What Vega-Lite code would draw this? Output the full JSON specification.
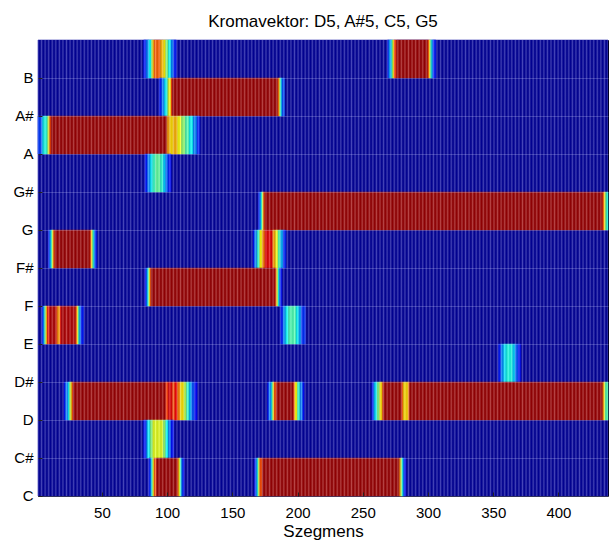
{
  "$schema": "https://vega.github.io/schema/vega-lite/v6.json",
  "width": 570,
  "height": 456,
  "autosize": "none",
  "padding": {"left": 38, "top": 40, "right": 1, "bottom": 49},
  "background": "white",
  "title": {"text": "Kromavektor: D5, A#5, C5, G5", "font": "Liberation Sans", "fontSize": 17, "fontWeight": "normal", "color": "black", "offset": 9},
  "config": {"view": {"stroke": "black", "strokeWidth": 1}, "font": "Liberation Sans"},
  "layer": [
    {
      "data": {"values": [
        {"note":"C","a":1,"b":438,"v":0.03},{"note":"C#","a":1,"b":438,"v":0.03},{"note":"D","a":1,"b":438,"v":0.03},{"note":"D#","a":1,"b":438,"v":0.03},
        {"note":"E","a":1,"b":438,"v":0.03},{"note":"F","a":1,"b":438,"v":0.03},{"note":"F#","a":1,"b":438,"v":0.03},{"note":"G","a":1,"b":438,"v":0.03},
        {"note":"G#","a":1,"b":438,"v":0.03},{"note":"A","a":1,"b":438,"v":0.03},{"note":"A#","a":1,"b":438,"v":0.03},{"note":"B","a":1,"b":438,"v":0.03},

        {"note":"B","a":82,"b":84,"v":0.15},{"note":"B","a":84,"b":86,"v":0.25},{"note":"B","a":86,"b":88,"v":0.38},{"note":"B","a":88,"b":89,"v":0.55},{"note":"B","a":89,"b":90,"v":0.68},
        {"note":"B","a":90,"b":95,"v":0.78},{"note":"B","a":95,"b":97,"v":0.7},{"note":"B","a":97,"b":99,"v":0.64},{"note":"B","a":99,"b":101,"v":0.5},
        {"note":"B","a":101,"b":103,"v":0.38},{"note":"B","a":103,"b":105,"v":0.25},{"note":"B","a":105,"b":107,"v":0.15},
        {"note":"B","a":269,"b":270,"v":0.15},{"note":"B","a":270,"b":272,"v":0.28},{"note":"B","a":272,"b":273,"v":0.42},{"note":"B","a":273,"b":274,"v":0.62},{"note":"B","a":274,"b":276,"v":0.82},
        {"note":"B","a":276,"b":300,"v":0.97},{"note":"B","a":300,"b":301,"v":0.8},{"note":"B","a":301,"b":302,"v":0.62},{"note":"B","a":302,"b":303,"v":0.42},
        {"note":"B","a":303,"b":304,"v":0.28},{"note":"B","a":304,"b":306,"v":0.15},

        {"note":"A#","a":94,"b":96,"v":0.15},{"note":"A#","a":96,"b":98,"v":0.25},{"note":"A#","a":98,"b":100,"v":0.36},{"note":"A#","a":100,"b":101,"v":0.48},{"note":"A#","a":101,"b":103,"v":0.62},
        {"note":"A#","a":103,"b":104,"v":0.8},{"note":"A#","a":104,"b":185,"v":0.97},{"note":"A#","a":185,"b":186,"v":0.78},{"note":"A#","a":186,"b":187,"v":0.58},
        {"note":"A#","a":187,"b":188,"v":0.38},{"note":"A#","a":188,"b":190,"v":0.2},

        {"note":"A","a":1,"b":4,"v":0.18},{"note":"A","a":4,"b":5,"v":0.3},{"note":"A","a":5,"b":8,"v":0.4},{"note":"A","a":8,"b":9,"v":0.5},
        {"note":"A","a":9,"b":10,"v":0.64},{"note":"A","a":10,"b":11,"v":0.8},{"note":"A","a":11,"b":100,"v":0.97},{"note":"A","a":100,"b":102,"v":0.72},
        {"note":"A","a":102,"b":105,"v":0.66},{"note":"A","a":105,"b":108,"v":0.7},{"note":"A","a":108,"b":111,"v":0.62},{"note":"A","a":111,"b":114,"v":0.52},
        {"note":"A","a":114,"b":117,"v":0.45},{"note":"A","a":117,"b":120,"v":0.38},{"note":"A","a":120,"b":123,"v":0.25},{"note":"A","a":123,"b":125,"v":0.15},

        {"note":"G#","a":83,"b":85,"v":0.15},{"note":"G#","a":85,"b":87,"v":0.25},{"note":"G#","a":87,"b":89,"v":0.36},{"note":"G#","a":89,"b":91,"v":0.43},{"note":"G#","a":91,"b":95,"v":0.47},
        {"note":"G#","a":95,"b":97,"v":0.42},{"note":"G#","a":97,"b":99,"v":0.33},{"note":"G#","a":99,"b":101,"v":0.22},{"note":"G#","a":101,"b":103,"v":0.14},

        {"note":"G","a":170,"b":171,"v":0.15},{"note":"G","a":171,"b":172,"v":0.25},{"note":"G","a":172,"b":173,"v":0.4},{"note":"G","a":173,"b":174,"v":0.6},{"note":"G","a":174,"b":175,"v":0.8},
        {"note":"G","a":175,"b":434,"v":0.97},{"note":"G","a":434,"b":435,"v":0.8},{"note":"G","a":435,"b":436,"v":0.65},{"note":"G","a":436,"b":437,"v":0.5},
        {"note":"G","a":437,"b":438,"v":0.4},

        {"note":"F#","a":9,"b":10,"v":0.15},{"note":"F#","a":10,"b":11,"v":0.28},{"note":"F#","a":11,"b":12,"v":0.42},{"note":"F#","a":12,"b":13,"v":0.62},{"note":"F#","a":13,"b":14,"v":0.8},
        {"note":"F#","a":14,"b":41,"v":0.97},{"note":"F#","a":41,"b":42,"v":0.8},{"note":"F#","a":42,"b":43,"v":0.62},{"note":"F#","a":43,"b":44,"v":0.42},
        {"note":"F#","a":44,"b":45,"v":0.26},{"note":"F#","a":45,"b":46,"v":0.15},
        {"note":"F#","a":166,"b":167,"v":0.14},{"note":"F#","a":167,"b":169,"v":0.25},{"note":"F#","a":169,"b":171,"v":0.42},{"note":"F#","a":171,"b":173,"v":0.62},{"note":"F#","a":173,"b":175,"v":0.75},
        {"note":"F#","a":175,"b":181,"v":0.9},{"note":"F#","a":181,"b":183,"v":0.72},{"note":"F#","a":183,"b":185,"v":0.62},{"note":"F#","a":185,"b":187,"v":0.45},
        {"note":"F#","a":187,"b":189,"v":0.3},{"note":"F#","a":189,"b":191,"v":0.16},

        {"note":"F","a":83,"b":84,"v":0.14},{"note":"F","a":84,"b":85,"v":0.24},{"note":"F","a":85,"b":86,"v":0.38},{"note":"F","a":86,"b":87,"v":0.6},{"note":"F","a":87,"b":88,"v":0.8},
        {"note":"F","a":88,"b":183,"v":0.97},{"note":"F","a":183,"b":184,"v":0.8},{"note":"F","a":184,"b":185,"v":0.6},{"note":"F","a":185,"b":186,"v":0.4},
        {"note":"F","a":186,"b":187,"v":0.24},{"note":"F","a":187,"b":188,"v":0.14},

        {"note":"E","a":4,"b":5,"v":0.15},{"note":"E","a":5,"b":6,"v":0.28},{"note":"E","a":6,"b":7,"v":0.45},{"note":"E","a":7,"b":8,"v":0.65},{"note":"E","a":8,"b":10,"v":0.85},
        {"note":"E","a":10,"b":15,"v":0.95},{"note":"E","a":15,"b":16,"v":0.82},{"note":"E","a":16,"b":18,"v":0.72},{"note":"E","a":18,"b":19,"v":0.85},
        {"note":"E","a":19,"b":30,"v":0.95},{"note":"E","a":30,"b":31,"v":0.8},{"note":"E","a":31,"b":32,"v":0.62},{"note":"E","a":32,"b":33,"v":0.42},
        {"note":"E","a":33,"b":34,"v":0.26},{"note":"E","a":34,"b":36,"v":0.15},
        {"note":"E","a":187,"b":189,"v":0.15},{"note":"E","a":189,"b":191,"v":0.27},{"note":"E","a":191,"b":193,"v":0.38},{"note":"E","a":193,"b":199,"v":0.45},{"note":"E","a":199,"b":201,"v":0.38},
        {"note":"E","a":201,"b":203,"v":0.28},{"note":"E","a":203,"b":206,"v":0.17},

        {"note":"D#","a":354,"b":356,"v":0.15},{"note":"D#","a":356,"b":358,"v":0.26},{"note":"D#","a":358,"b":360,"v":0.35},{"note":"D#","a":360,"b":365,"v":0.4},{"note":"D#","a":365,"b":367,"v":0.33},
        {"note":"D#","a":367,"b":369,"v":0.22},{"note":"D#","a":369,"b":371,"v":0.14},

        {"note":"D","a":21,"b":22,"v":0.14},{"note":"D","a":22,"b":24,"v":0.24},{"note":"D","a":24,"b":25,"v":0.36},{"note":"D","a":25,"b":26,"v":0.5},{"note":"D","a":26,"b":27,"v":0.62},
        {"note":"D","a":27,"b":28,"v":0.8},{"note":"D","a":28,"b":99,"v":0.97},{"note":"D","a":99,"b":101,"v":0.82},{"note":"D","a":101,"b":104,"v":0.9},
        {"note":"D","a":104,"b":106,"v":0.8},{"note":"D","a":106,"b":108,"v":0.88},{"note":"D","a":108,"b":110,"v":0.75},{"note":"D","a":110,"b":113,"v":0.65},
        {"note":"D","a":113,"b":115,"v":0.55},{"note":"D","a":115,"b":117,"v":0.42},{"note":"D","a":117,"b":119,"v":0.3},{"note":"D","a":119,"b":121,"v":0.2},{"note":"D","a":121,"b":123,"v":0.13},
        {"note":"D","a":177,"b":178,"v":0.14},{"note":"D","a":178,"b":180,"v":0.25},{"note":"D","a":180,"b":181,"v":0.4},{"note":"D","a":181,"b":182,"v":0.6},{"note":"D","a":182,"b":184,"v":0.8},
        {"note":"D","a":184,"b":197,"v":0.97},{"note":"D","a":197,"b":198,"v":0.8},{"note":"D","a":198,"b":200,"v":0.62},{"note":"D","a":200,"b":202,"v":0.42},
        {"note":"D","a":202,"b":204,"v":0.25},{"note":"D","a":204,"b":205,"v":0.14},
        {"note":"D","a":257,"b":258,"v":0.14},{"note":"D","a":258,"b":259,"v":0.22},{"note":"D","a":259,"b":261,"v":0.35},{"note":"D","a":261,"b":263,"v":0.5},{"note":"D","a":263,"b":265,"v":0.65},
        {"note":"D","a":265,"b":266,"v":0.8},{"note":"D","a":266,"b":280,"v":0.97},{"note":"D","a":280,"b":281,"v":0.8},{"note":"D","a":281,"b":285,"v":0.66},
        {"note":"D","a":285,"b":286,"v":0.78},{"note":"D","a":286,"b":434,"v":0.97},{"note":"D","a":434,"b":435,"v":0.75},{"note":"D","a":435,"b":436,"v":0.6},
        {"note":"D","a":436,"b":438,"v":0.45},

        {"note":"C#","a":82,"b":84,"v":0.15},{"note":"C#","a":84,"b":85,"v":0.25},{"note":"C#","a":85,"b":87,"v":0.36},{"note":"C#","a":87,"b":89,"v":0.5},{"note":"C#","a":89,"b":97,"v":0.6},
        {"note":"C#","a":97,"b":99,"v":0.52},{"note":"C#","a":99,"b":101,"v":0.38},{"note":"C#","a":101,"b":103,"v":0.24},{"note":"C#","a":103,"b":105,"v":0.14},

        {"note":"C","a":86,"b":87,"v":0.14},{"note":"C","a":87,"b":88,"v":0.24},{"note":"C","a":88,"b":89,"v":0.4},{"note":"C","a":89,"b":90,"v":0.6},{"note":"C","a":90,"b":92,"v":0.8},
        {"note":"C","a":92,"b":108,"v":0.97},{"note":"C","a":108,"b":109,"v":0.8},{"note":"C","a":109,"b":110,"v":0.62},{"note":"C","a":110,"b":111,"v":0.42},
        {"note":"C","a":111,"b":112,"v":0.25},{"note":"C","a":112,"b":113,"v":0.14},
        {"note":"C","a":167,"b":168,"v":0.14},{"note":"C","a":168,"b":169,"v":0.24},{"note":"C","a":169,"b":170,"v":0.4},{"note":"C","a":170,"b":171,"v":0.6},{"note":"C","a":171,"b":173,"v":0.8},
        {"note":"C","a":173,"b":278,"v":0.97},{"note":"C","a":278,"b":279,"v":0.75},{"note":"C","a":279,"b":280,"v":0.58},{"note":"C","a":280,"b":281,"v":0.4},
        {"note":"C","a":281,"b":282,"v":0.24},{"note":"C","a":282,"b":283,"v":0.14}
      ]},
      "mark": {"type": "rect", "strokeWidth": 0.5},
      "encoding": {
        "x": {
          "field": "a", "type": "quantitative",
          "scale": {"domain": [1, 438], "nice": false, "zero": false},
          "axis": {
            "values": [50, 100, 150, 200, 250, 300, 350, 400],
            "title": "Szegmens", "titleFont": "Liberation Sans", "titleFontSize": 17, "titleFontWeight": "normal", "titleColor": "black", "titlePadding": 3,
            "labelFont": "Liberation Sans", "labelFontSize": 15, "labelColor": "black", "labelPadding": 13, "labelFlush": false,
            "tickSize": -4, "tickColor": "#222222", "domain": false, "grid": false, "zindex": 1
          }
        },
        "x2": {"field": "b"},
        "y": {
          "field": "note", "type": "nominal",
          "scale": {"domain": ["B", "A#", "A", "G#", "G", "F#", "F", "E", "D#", "D", "C#", "C"], "paddingInner": 0, "paddingOuter": 0},
          "axis": {
            "title": null, "bandPosition": 1, "labelOffset": 19,
            "labelFont": "Liberation Sans", "labelFontSize": 15, "labelColor": "black", "labelPadding": 9,
            "tickSize": -4, "tickColor": "#222222", "domain": false,
            "grid": true, "gridColor": "#c8ccff", "gridOpacity": 0.25, "gridWidth": 1, "zindex": 1
          }
        },
        "color": {
          "field": "v", "type": "quantitative", "legend": null,
          "scale": {"domain": [0, 0.125, 0.375, 0.625, 0.875, 1], "range": ["#000080", "#0000ff", "#00ffff", "#ffff00", "#ff0000", "#800000"], "interpolate": "rgb"}
        },
        "stroke": {
          "field": "v", "type": "quantitative", "legend": null,
          "scale": {"domain": [0, 0.125, 0.375, 0.625, 0.875, 1], "range": ["#000080", "#0000ff", "#00ffff", "#ffff00", "#ff0000", "#800000"], "interpolate": "rgb"}
        }
      }
    },
    {
      "data": {"values": [{}]},
      "mark": {
        "type": "rect",
        "fill": {
          "gradient": "linear", "x1": 0, "y1": 0, "x2": 1, "y2": 0,
          "stops": [
            {"offset":0,"color":"rgba(255,255,255,0.27)"},{"offset":0.0031,"color":"rgba(0,0,20,0.1)"},{"offset":0.0063,"color":"rgba(255,255,255,0.27)"},{"offset":0.0094,"color":"rgba(0,0,20,0.1)"},{"offset":0.0125,"color":"rgba(255,255,255,0.27)"},{"offset":0.0156,"color":"rgba(0,0,20,0.1)"},{"offset":0.0188,"color":"rgba(255,255,255,0.27)"},{"offset":0.0219,"color":"rgba(0,0,20,0.1)"},
            {"offset":0.025,"color":"rgba(255,255,255,0.27)"},{"offset":0.0281,"color":"rgba(0,0,20,0.1)"},{"offset":0.0313,"color":"rgba(255,255,255,0.27)"},{"offset":0.0344,"color":"rgba(0,0,20,0.1)"},{"offset":0.0375,"color":"rgba(255,255,255,0.27)"},{"offset":0.0406,"color":"rgba(0,0,20,0.1)"},{"offset":0.0438,"color":"rgba(255,255,255,0.27)"},{"offset":0.0469,"color":"rgba(0,0,20,0.1)"},
            {"offset":0.05,"color":"rgba(255,255,255,0.27)"},{"offset":0.0531,"color":"rgba(0,0,20,0.1)"},{"offset":0.0563,"color":"rgba(255,255,255,0.27)"},{"offset":0.0594,"color":"rgba(0,0,20,0.1)"},{"offset":0.0625,"color":"rgba(255,255,255,0.27)"},{"offset":0.0656,"color":"rgba(0,0,20,0.1)"},{"offset":0.0688,"color":"rgba(255,255,255,0.27)"},{"offset":0.0719,"color":"rgba(0,0,20,0.1)"},
            {"offset":0.075,"color":"rgba(255,255,255,0.27)"},{"offset":0.0781,"color":"rgba(0,0,20,0.1)"},{"offset":0.0813,"color":"rgba(255,255,255,0.27)"},{"offset":0.0844,"color":"rgba(0,0,20,0.1)"},{"offset":0.0875,"color":"rgba(255,255,255,0.27)"},{"offset":0.0906,"color":"rgba(0,0,20,0.1)"},{"offset":0.0938,"color":"rgba(255,255,255,0.27)"},{"offset":0.0969,"color":"rgba(0,0,20,0.1)"},
            {"offset":0.1,"color":"rgba(255,255,255,0.27)"},{"offset":0.1031,"color":"rgba(0,0,20,0.1)"},{"offset":0.1063,"color":"rgba(255,255,255,0.27)"},{"offset":0.1094,"color":"rgba(0,0,20,0.1)"},{"offset":0.1125,"color":"rgba(255,255,255,0.27)"},{"offset":0.1156,"color":"rgba(0,0,20,0.1)"},{"offset":0.1188,"color":"rgba(255,255,255,0.27)"},{"offset":0.1219,"color":"rgba(0,0,20,0.1)"},
            {"offset":0.125,"color":"rgba(255,255,255,0.27)"},{"offset":0.1281,"color":"rgba(0,0,20,0.1)"},{"offset":0.1313,"color":"rgba(255,255,255,0.27)"},{"offset":0.1344,"color":"rgba(0,0,20,0.1)"},{"offset":0.1375,"color":"rgba(255,255,255,0.27)"},{"offset":0.1406,"color":"rgba(0,0,20,0.1)"},{"offset":0.1438,"color":"rgba(255,255,255,0.27)"},{"offset":0.1469,"color":"rgba(0,0,20,0.1)"},
            {"offset":0.15,"color":"rgba(255,255,255,0.27)"},{"offset":0.1531,"color":"rgba(0,0,20,0.1)"},{"offset":0.1563,"color":"rgba(255,255,255,0.27)"},{"offset":0.1594,"color":"rgba(0,0,20,0.1)"},{"offset":0.1625,"color":"rgba(255,255,255,0.27)"},{"offset":0.1656,"color":"rgba(0,0,20,0.1)"},{"offset":0.1688,"color":"rgba(255,255,255,0.27)"},{"offset":0.1719,"color":"rgba(0,0,20,0.1)"},
            {"offset":0.175,"color":"rgba(255,255,255,0.27)"},{"offset":0.1781,"color":"rgba(0,0,20,0.1)"},{"offset":0.1813,"color":"rgba(255,255,255,0.27)"},{"offset":0.1844,"color":"rgba(0,0,20,0.1)"},{"offset":0.1875,"color":"rgba(255,255,255,0.27)"},{"offset":0.1906,"color":"rgba(0,0,20,0.1)"},{"offset":0.1938,"color":"rgba(255,255,255,0.27)"},{"offset":0.1969,"color":"rgba(0,0,20,0.1)"},
            {"offset":0.2,"color":"rgba(255,255,255,0.27)"},{"offset":0.2031,"color":"rgba(0,0,20,0.1)"},{"offset":0.2063,"color":"rgba(255,255,255,0.27)"},{"offset":0.2094,"color":"rgba(0,0,20,0.1)"},{"offset":0.2125,"color":"rgba(255,255,255,0.27)"},{"offset":0.2156,"color":"rgba(0,0,20,0.1)"},{"offset":0.2188,"color":"rgba(255,255,255,0.27)"},{"offset":0.2219,"color":"rgba(0,0,20,0.1)"},
            {"offset":0.225,"color":"rgba(255,255,255,0.27)"},{"offset":0.2281,"color":"rgba(0,0,20,0.1)"},{"offset":0.2313,"color":"rgba(255,255,255,0.27)"},{"offset":0.2344,"color":"rgba(0,0,20,0.1)"},{"offset":0.2375,"color":"rgba(255,255,255,0.27)"},{"offset":0.2406,"color":"rgba(0,0,20,0.1)"},{"offset":0.2438,"color":"rgba(255,255,255,0.27)"},{"offset":0.2469,"color":"rgba(0,0,20,0.1)"},
            {"offset":0.25,"color":"rgba(255,255,255,0.27)"},{"offset":0.2531,"color":"rgba(0,0,20,0.1)"},{"offset":0.2563,"color":"rgba(255,255,255,0.27)"},{"offset":0.2594,"color":"rgba(0,0,20,0.1)"},{"offset":0.2625,"color":"rgba(255,255,255,0.27)"},{"offset":0.2656,"color":"rgba(0,0,20,0.1)"},{"offset":0.2688,"color":"rgba(255,255,255,0.27)"},{"offset":0.2719,"color":"rgba(0,0,20,0.1)"},
            {"offset":0.275,"color":"rgba(255,255,255,0.27)"},{"offset":0.2781,"color":"rgba(0,0,20,0.1)"},{"offset":0.2813,"color":"rgba(255,255,255,0.27)"},{"offset":0.2844,"color":"rgba(0,0,20,0.1)"},{"offset":0.2875,"color":"rgba(255,255,255,0.27)"},{"offset":0.2906,"color":"rgba(0,0,20,0.1)"},{"offset":0.2938,"color":"rgba(255,255,255,0.27)"},{"offset":0.2969,"color":"rgba(0,0,20,0.1)"},
            {"offset":0.3,"color":"rgba(255,255,255,0.27)"},{"offset":0.3031,"color":"rgba(0,0,20,0.1)"},{"offset":0.3063,"color":"rgba(255,255,255,0.27)"},{"offset":0.3094,"color":"rgba(0,0,20,0.1)"},{"offset":0.3125,"color":"rgba(255,255,255,0.27)"},{"offset":0.3156,"color":"rgba(0,0,20,0.1)"},{"offset":0.3188,"color":"rgba(255,255,255,0.27)"},{"offset":0.3219,"color":"rgba(0,0,20,0.1)"},
            {"offset":0.325,"color":"rgba(255,255,255,0.27)"},{"offset":0.3281,"color":"rgba(0,0,20,0.1)"},{"offset":0.3313,"color":"rgba(255,255,255,0.27)"},{"offset":0.3344,"color":"rgba(0,0,20,0.1)"},{"offset":0.3375,"color":"rgba(255,255,255,0.27)"},{"offset":0.3406,"color":"rgba(0,0,20,0.1)"},{"offset":0.3438,"color":"rgba(255,255,255,0.27)"},{"offset":0.3469,"color":"rgba(0,0,20,0.1)"},
            {"offset":0.35,"color":"rgba(255,255,255,0.27)"},{"offset":0.3531,"color":"rgba(0,0,20,0.1)"},{"offset":0.3563,"color":"rgba(255,255,255,0.27)"},{"offset":0.3594,"color":"rgba(0,0,20,0.1)"},{"offset":0.3625,"color":"rgba(255,255,255,0.27)"},{"offset":0.3656,"color":"rgba(0,0,20,0.1)"},{"offset":0.3688,"color":"rgba(255,255,255,0.27)"},{"offset":0.3719,"color":"rgba(0,0,20,0.1)"},
            {"offset":0.375,"color":"rgba(255,255,255,0.27)"},{"offset":0.3781,"color":"rgba(0,0,20,0.1)"},{"offset":0.3813,"color":"rgba(255,255,255,0.27)"},{"offset":0.3844,"color":"rgba(0,0,20,0.1)"},{"offset":0.3875,"color":"rgba(255,255,255,0.27)"},{"offset":0.3906,"color":"rgba(0,0,20,0.1)"},{"offset":0.3938,"color":"rgba(255,255,255,0.27)"},{"offset":0.3969,"color":"rgba(0,0,20,0.1)"},
            {"offset":0.4,"color":"rgba(255,255,255,0.27)"},{"offset":0.4031,"color":"rgba(0,0,20,0.1)"},{"offset":0.4063,"color":"rgba(255,255,255,0.27)"},{"offset":0.4094,"color":"rgba(0,0,20,0.1)"},{"offset":0.4125,"color":"rgba(255,255,255,0.27)"},{"offset":0.4156,"color":"rgba(0,0,20,0.1)"},{"offset":0.4188,"color":"rgba(255,255,255,0.27)"},{"offset":0.4219,"color":"rgba(0,0,20,0.1)"},
            {"offset":0.425,"color":"rgba(255,255,255,0.27)"},{"offset":0.4281,"color":"rgba(0,0,20,0.1)"},{"offset":0.4313,"color":"rgba(255,255,255,0.27)"},{"offset":0.4344,"color":"rgba(0,0,20,0.1)"},{"offset":0.4375,"color":"rgba(255,255,255,0.27)"},{"offset":0.4406,"color":"rgba(0,0,20,0.1)"},{"offset":0.4438,"color":"rgba(255,255,255,0.27)"},{"offset":0.4469,"color":"rgba(0,0,20,0.1)"},
            {"offset":0.45,"color":"rgba(255,255,255,0.27)"},{"offset":0.4531,"color":"rgba(0,0,20,0.1)"},{"offset":0.4563,"color":"rgba(255,255,255,0.27)"},{"offset":0.4594,"color":"rgba(0,0,20,0.1)"},{"offset":0.4625,"color":"rgba(255,255,255,0.27)"},{"offset":0.4656,"color":"rgba(0,0,20,0.1)"},{"offset":0.4688,"color":"rgba(255,255,255,0.27)"},{"offset":0.4719,"color":"rgba(0,0,20,0.1)"},
            {"offset":0.475,"color":"rgba(255,255,255,0.27)"},{"offset":0.4781,"color":"rgba(0,0,20,0.1)"},{"offset":0.4813,"color":"rgba(255,255,255,0.27)"},{"offset":0.4844,"color":"rgba(0,0,20,0.1)"},{"offset":0.4875,"color":"rgba(255,255,255,0.27)"},{"offset":0.4906,"color":"rgba(0,0,20,0.1)"},{"offset":0.4938,"color":"rgba(255,255,255,0.27)"},{"offset":0.4969,"color":"rgba(0,0,20,0.1)"},
            {"offset":0.5,"color":"rgba(255,255,255,0.27)"},{"offset":0.5031,"color":"rgba(0,0,20,0.1)"},{"offset":0.5063,"color":"rgba(255,255,255,0.27)"},{"offset":0.5094,"color":"rgba(0,0,20,0.1)"},{"offset":0.5125,"color":"rgba(255,255,255,0.27)"},{"offset":0.5156,"color":"rgba(0,0,20,0.1)"},{"offset":0.5188,"color":"rgba(255,255,255,0.27)"},{"offset":0.5219,"color":"rgba(0,0,20,0.1)"},
            {"offset":0.525,"color":"rgba(255,255,255,0.27)"},{"offset":0.5281,"color":"rgba(0,0,20,0.1)"},{"offset":0.5313,"color":"rgba(255,255,255,0.27)"},{"offset":0.5344,"color":"rgba(0,0,20,0.1)"},{"offset":0.5375,"color":"rgba(255,255,255,0.27)"},{"offset":0.5406,"color":"rgba(0,0,20,0.1)"},{"offset":0.5438,"color":"rgba(255,255,255,0.27)"},{"offset":0.5469,"color":"rgba(0,0,20,0.1)"},
            {"offset":0.55,"color":"rgba(255,255,255,0.27)"},{"offset":0.5531,"color":"rgba(0,0,20,0.1)"},{"offset":0.5563,"color":"rgba(255,255,255,0.27)"},{"offset":0.5594,"color":"rgba(0,0,20,0.1)"},{"offset":0.5625,"color":"rgba(255,255,255,0.27)"},{"offset":0.5656,"color":"rgba(0,0,20,0.1)"},{"offset":0.5688,"color":"rgba(255,255,255,0.27)"},{"offset":0.5719,"color":"rgba(0,0,20,0.1)"},
            {"offset":0.575,"color":"rgba(255,255,255,0.27)"},{"offset":0.5781,"color":"rgba(0,0,20,0.1)"},{"offset":0.5813,"color":"rgba(255,255,255,0.27)"},{"offset":0.5844,"color":"rgba(0,0,20,0.1)"},{"offset":0.5875,"color":"rgba(255,255,255,0.27)"},{"offset":0.5906,"color":"rgba(0,0,20,0.1)"},{"offset":0.5938,"color":"rgba(255,255,255,0.27)"},{"offset":0.5969,"color":"rgba(0,0,20,0.1)"},
            {"offset":0.6,"color":"rgba(255,255,255,0.27)"},{"offset":0.6031,"color":"rgba(0,0,20,0.1)"},{"offset":0.6063,"color":"rgba(255,255,255,0.27)"},{"offset":0.6094,"color":"rgba(0,0,20,0.1)"},{"offset":0.6125,"color":"rgba(255,255,255,0.27)"},{"offset":0.6156,"color":"rgba(0,0,20,0.1)"},{"offset":0.6188,"color":"rgba(255,255,255,0.27)"},{"offset":0.6219,"color":"rgba(0,0,20,0.1)"},
            {"offset":0.625,"color":"rgba(255,255,255,0.27)"},{"offset":0.6281,"color":"rgba(0,0,20,0.1)"},{"offset":0.6313,"color":"rgba(255,255,255,0.27)"},{"offset":0.6344,"color":"rgba(0,0,20,0.1)"},{"offset":0.6375,"color":"rgba(255,255,255,0.27)"},{"offset":0.6406,"color":"rgba(0,0,20,0.1)"},{"offset":0.6438,"color":"rgba(255,255,255,0.27)"},{"offset":0.6469,"color":"rgba(0,0,20,0.1)"},
            {"offset":0.65,"color":"rgba(255,255,255,0.27)"},{"offset":0.6531,"color":"rgba(0,0,20,0.1)"},{"offset":0.6563,"color":"rgba(255,255,255,0.27)"},{"offset":0.6594,"color":"rgba(0,0,20,0.1)"},{"offset":0.6625,"color":"rgba(255,255,255,0.27)"},{"offset":0.6656,"color":"rgba(0,0,20,0.1)"},{"offset":0.6688,"color":"rgba(255,255,255,0.27)"},{"offset":0.6719,"color":"rgba(0,0,20,0.1)"},
            {"offset":0.675,"color":"rgba(255,255,255,0.27)"},{"offset":0.6781,"color":"rgba(0,0,20,0.1)"},{"offset":0.6813,"color":"rgba(255,255,255,0.27)"},{"offset":0.6844,"color":"rgba(0,0,20,0.1)"},{"offset":0.6875,"color":"rgba(255,255,255,0.27)"},{"offset":0.6906,"color":"rgba(0,0,20,0.1)"},{"offset":0.6938,"color":"rgba(255,255,255,0.27)"},{"offset":0.6969,"color":"rgba(0,0,20,0.1)"},
            {"offset":0.7,"color":"rgba(255,255,255,0.27)"},{"offset":0.7031,"color":"rgba(0,0,20,0.1)"},{"offset":0.7063,"color":"rgba(255,255,255,0.27)"},{"offset":0.7094,"color":"rgba(0,0,20,0.1)"},{"offset":0.7125,"color":"rgba(255,255,255,0.27)"},{"offset":0.7156,"color":"rgba(0,0,20,0.1)"},{"offset":0.7188,"color":"rgba(255,255,255,0.27)"},{"offset":0.7219,"color":"rgba(0,0,20,0.1)"},
            {"offset":0.725,"color":"rgba(255,255,255,0.27)"},{"offset":0.7281,"color":"rgba(0,0,20,0.1)"},{"offset":0.7313,"color":"rgba(255,255,255,0.27)"},{"offset":0.7344,"color":"rgba(0,0,20,0.1)"},{"offset":0.7375,"color":"rgba(255,255,255,0.27)"},{"offset":0.7406,"color":"rgba(0,0,20,0.1)"},{"offset":0.7438,"color":"rgba(255,255,255,0.27)"},{"offset":0.7469,"color":"rgba(0,0,20,0.1)"},
            {"offset":0.75,"color":"rgba(255,255,255,0.27)"},{"offset":0.7531,"color":"rgba(0,0,20,0.1)"},{"offset":0.7563,"color":"rgba(255,255,255,0.27)"},{"offset":0.7594,"color":"rgba(0,0,20,0.1)"},{"offset":0.7625,"color":"rgba(255,255,255,0.27)"},{"offset":0.7656,"color":"rgba(0,0,20,0.1)"},{"offset":0.7688,"color":"rgba(255,255,255,0.27)"},{"offset":0.7719,"color":"rgba(0,0,20,0.1)"},
            {"offset":0.775,"color":"rgba(255,255,255,0.27)"},{"offset":0.7781,"color":"rgba(0,0,20,0.1)"},{"offset":0.7813,"color":"rgba(255,255,255,0.27)"},{"offset":0.7844,"color":"rgba(0,0,20,0.1)"},{"offset":0.7875,"color":"rgba(255,255,255,0.27)"},{"offset":0.7906,"color":"rgba(0,0,20,0.1)"},{"offset":0.7938,"color":"rgba(255,255,255,0.27)"},{"offset":0.7969,"color":"rgba(0,0,20,0.1)"},
            {"offset":0.8,"color":"rgba(255,255,255,0.27)"},{"offset":0.8031,"color":"rgba(0,0,20,0.1)"},{"offset":0.8063,"color":"rgba(255,255,255,0.27)"},{"offset":0.8094,"color":"rgba(0,0,20,0.1)"},{"offset":0.8125,"color":"rgba(255,255,255,0.27)"},{"offset":0.8156,"color":"rgba(0,0,20,0.1)"},{"offset":0.8188,"color":"rgba(255,255,255,0.27)"},{"offset":0.8219,"color":"rgba(0,0,20,0.1)"},
            {"offset":0.825,"color":"rgba(255,255,255,0.27)"},{"offset":0.8281,"color":"rgba(0,0,20,0.1)"},{"offset":0.8313,"color":"rgba(255,255,255,0.27)"},{"offset":0.8344,"color":"rgba(0,0,20,0.1)"},{"offset":0.8375,"color":"rgba(255,255,255,0.27)"},{"offset":0.8406,"color":"rgba(0,0,20,0.1)"},{"offset":0.8438,"color":"rgba(255,255,255,0.27)"},{"offset":0.8469,"color":"rgba(0,0,20,0.1)"},
            {"offset":0.85,"color":"rgba(255,255,255,0.27)"},{"offset":0.8531,"color":"rgba(0,0,20,0.1)"},{"offset":0.8563,"color":"rgba(255,255,255,0.27)"},{"offset":0.8594,"color":"rgba(0,0,20,0.1)"},{"offset":0.8625,"color":"rgba(255,255,255,0.27)"},{"offset":0.8656,"color":"rgba(0,0,20,0.1)"},{"offset":0.8688,"color":"rgba(255,255,255,0.27)"},{"offset":0.8719,"color":"rgba(0,0,20,0.1)"},
            {"offset":0.875,"color":"rgba(255,255,255,0.27)"},{"offset":0.8781,"color":"rgba(0,0,20,0.1)"},{"offset":0.8813,"color":"rgba(255,255,255,0.27)"},{"offset":0.8844,"color":"rgba(0,0,20,0.1)"},{"offset":0.8875,"color":"rgba(255,255,255,0.27)"},{"offset":0.8906,"color":"rgba(0,0,20,0.1)"},{"offset":0.8938,"color":"rgba(255,255,255,0.27)"},{"offset":0.8969,"color":"rgba(0,0,20,0.1)"},
            {"offset":0.9,"color":"rgba(255,255,255,0.27)"},{"offset":0.9031,"color":"rgba(0,0,20,0.1)"},{"offset":0.9063,"color":"rgba(255,255,255,0.27)"},{"offset":0.9094,"color":"rgba(0,0,20,0.1)"},{"offset":0.9125,"color":"rgba(255,255,255,0.27)"},{"offset":0.9156,"color":"rgba(0,0,20,0.1)"},{"offset":0.9188,"color":"rgba(255,255,255,0.27)"},{"offset":0.9219,"color":"rgba(0,0,20,0.1)"},
            {"offset":0.925,"color":"rgba(255,255,255,0.27)"},{"offset":0.9281,"color":"rgba(0,0,20,0.1)"},{"offset":0.9313,"color":"rgba(255,255,255,0.27)"},{"offset":0.9344,"color":"rgba(0,0,20,0.1)"},{"offset":0.9375,"color":"rgba(255,255,255,0.27)"},{"offset":0.9406,"color":"rgba(0,0,20,0.1)"},{"offset":0.9438,"color":"rgba(255,255,255,0.27)"},{"offset":0.9469,"color":"rgba(0,0,20,0.1)"},
            {"offset":0.95,"color":"rgba(255,255,255,0.27)"},{"offset":0.9531,"color":"rgba(0,0,20,0.1)"},{"offset":0.9563,"color":"rgba(255,255,255,0.27)"},{"offset":0.9594,"color":"rgba(0,0,20,0.1)"},{"offset":0.9625,"color":"rgba(255,255,255,0.27)"},{"offset":0.9656,"color":"rgba(0,0,20,0.1)"},{"offset":0.9688,"color":"rgba(255,255,255,0.27)"},{"offset":0.9719,"color":"rgba(0,0,20,0.1)"},
            {"offset":0.975,"color":"rgba(255,255,255,0.27)"},{"offset":0.9781,"color":"rgba(0,0,20,0.1)"},{"offset":0.9813,"color":"rgba(255,255,255,0.27)"},{"offset":0.9844,"color":"rgba(0,0,20,0.1)"},{"offset":0.9875,"color":"rgba(255,255,255,0.27)"},{"offset":0.9906,"color":"rgba(0,0,20,0.1)"},{"offset":0.9938,"color":"rgba(255,255,255,0.27)"},{"offset":0.9969,"color":"rgba(0,0,20,0.1)"},
            {"offset":1,"color":"rgba(255,255,255,0.27)"}
          ]
        }
      },
      "encoding": {"x": {"datum": 1}, "x2": {"datum": 438}}
    }
  ]
}
